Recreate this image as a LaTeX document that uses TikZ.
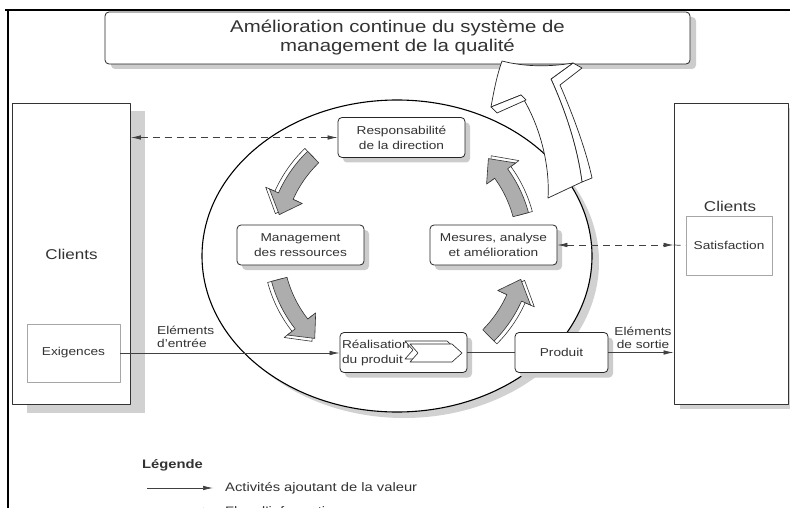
\documentclass[tikz,border=0pt]{standalone}
\usepackage{fontspec}
\setmainfont{Liberation Sans}[FakeStretch=1.2]
\usetikzlibrary{arrows.meta,shadows,calc}

\newcommand\boxfont{\fontsize{11.4}{15}\selectfont}
\newcommand\lblfont{\fontsize{11.4}{13}\selectfont}
\newcommand\clientfont{\fontsize{14.2}{16}\selectfont}
\newcommand\titlefont{\fontsize{17}{19}\selectfont}
\newcommand\legfont{\fontsize{12.3}{14}\selectfont}

% curved block arrow around the centre of the cycle: #1 tail angle, #2 tip angle, #3 radius offset, #4 style
\newcommand\cyclearrow[4]{%
  \path[#4] plot[domain=#1:#2+9, samples=16] ({400+(133+#3)*cos(\x)},{247+(133+#3)*sin(\x)})
    -- ({400+(143+#3)*cos(#2+9)},{247+(143+#3)*sin(#2+9)})
    -- ({400+(125+#3)*cos(#2)},{247+(125+#3)*sin(#2)})
    -- ({400+(107+#3)*cos(#2+9)},{247+(107+#3)*sin(#2+9)})
    -- plot[domain=#2+9:#1, samples=16] ({400+(117+#3)*cos(\x)},{247+(117+#3)*sin(\x)})
    -- cycle;}

\begin{document}
\begin{tikzpicture}[x=1pt, y=-1pt, line join=round,
  every node/.style={text=black!80, inner sep=0pt},
  procbox/.style={draw=black!85, line width=0.8pt, rounded corners=4pt, fill=white,
    align=center, font=\boxfont, minimum width=127pt, minimum height=40pt,
    drop shadow={shadow xshift=5pt, shadow yshift=-5pt, fill=black!20, opacity=1}},
  clientbox/.style={draw=black!80, line width=0.8pt, fill=white, font=\clientfont,
    minimum width=118pt, minimum height=301pt},
  innerbox/.style={draw=black!35, line width=0.6pt, fill=white, font=\boxfont},
  flow/.style={draw=black!75, line width=0.7pt, -{Latex[length=10pt, width=4.5pt]}},
  info/.style={draw=black!75, line width=0.7pt, dash pattern=on 7pt off 5pt},
  cyc/.style={draw=black!80, line width=0.6pt, fill=black!32},
  cycback/.style={draw=black!80, line width=0.6pt, fill=white},
  bigarrow/.style={draw=black!85, line width=0.7pt, fill=white}]

\clip (0,0) rectangle (790,508);
\fill[white] (0,0) rectangle (790,508);

% page frame
\draw[line width=2pt] (5,10) -- (790,10);
\draw[line width=2.5pt] (8,10) -- (8,510);

% continual improvement banner
\node[draw=black!85, line width=0.8pt, rounded corners=4pt, fill=white, align=center,
  font=\titlefont, minimum width=585pt, minimum height=52pt,
  drop shadow={shadow xshift=6pt, shadow yshift=-5pt, fill=black!20, opacity=1}]
  (topbox) at (397.5,38) {Amélioration continue du système de\\management de la qualité};

% customers (left): requirements
\node[clientbox, drop shadow={shadow xshift=14pt, shadow yshift=-8pt, fill=black!18, opacity=1}]
  (clientsL) at (71.5,254) {Clients};
\node[innerbox, minimum width=93pt, minimum height=58pt] (exig) at (73.5,353) {Exigences};

% customers (right): satisfaction
\node[clientbox, minimum width=114pt,
  drop shadow={shadow xshift=6pt, shadow yshift=-5pt, fill=black!18, opacity=1}]
  (clientsR) at (731,253.5) {};
\node[font=\clientfont] (clientsRlbl) at (730,206) {Clients};
\node[innerbox, minimum width=86pt, minimum height=59pt] (satis) at (729,245.5) {Satisfaction};

% process ellipse with its shadow
\fill[black!18] (404,262) ellipse [x radius=195, y radius=156];
\draw[fill=white, line width=1.1pt] (397,256) ellipse [x radius=195, y radius=156];

% large improvement arrow leaving the ellipse towards the banner
\draw[bigarrow] (573,63) -- (582,68) -- (560,85) .. controls (573,115) and (586,150) .. (592,178)
  -- (582,182) .. controls (577,145) and (565,110) .. (551,79) -- cycle;
\draw[bigarrow] (548,198) .. controls (550,165) and (540,125) .. (521,95) -- (491,107)
  .. controls (494,90) and (497,75) .. (502,61) .. controls (525,67) and (550,67) .. (573,63)
  -- (551,79) .. controls (565,110) and (577,145) .. (582,182) -- cycle;
\draw[bigarrow] (491,107) -- (521,95) -- (526,100) -- (497,113) -- cycle;

% processes
\node[procbox] (resp) at (401.5,137.5) {Responsabilité\\de la direction};
\node[procbox] (mgmt) at (300.5,245) {Management\\des ressources};
\node[procbox] (mesu) at (493.5,245) {Mesures, analyse\\et amélioration};
\node[procbox, align=left, text width=123pt] (real) at (403.5,352.5) {Réalisation\\du produit};
\node[procbox, minimum width=93pt] (prod) at (561.5,352.5) {Produit};

% chevron inside the product realization box
\draw[bigarrow, line width=0.6pt] (405,341) -- (447,341) -- (457,350) -- (447,359) -- (405,359) -- (413,350) -- cycle;
\draw[bigarrow, line width=0.6pt] (410,344) -- (452,344) -- (462,353) -- (452,362) -- (410,362) -- (418,353) -- cycle;

% cycle arrows between the processes
\cyclearrow{226}{195}{4}{cycback}
\cyclearrow{226}{195}{0}{cyc}
\cyclearrow{165}{133}{4}{cycback}
\cyclearrow{165}{133}{0}{cyc}
\cyclearrow{45}{15}{4}{cycback}
\cyclearrow{45}{15}{0}{cyc}
\cyclearrow{-15}{-45}{4}{cycback}
\cyclearrow{-15}{-45}{0}{cyc}

% information flows
\draw[info, {Latex[length=10pt, width=4.5pt]}-{Latex[length=10pt, width=4.5pt]}]
  (clientsL.east |- resp.west) -- (resp.west);
\draw[info, {Latex[length=10pt, width=4.5pt]}-{Latex[length=10pt, width=4.5pt]}]
  (mesu.east) -- (mesu.east -| clientsR.west);
\draw[info] (mesu.east -| clientsR.west) -- (satis.west);

% value adding flows
\draw[flow] (exig.east) -- (exig.east -| real.west);
\draw[draw=black!75, line width=0.7pt] (real.east) -- (prod.west);
\draw[flow] (prod.east) -- (prod.east -| clientsR.west);
\node[anchor=west, align=left, font=\lblfont] (inlbl) at (157,337) {Eléments\\d'entrée};
\node[align=center, font=\lblfont] (outlbl) at (643,338) {Eléments\\de sortie};

% legend
\node[anchor=west, font=\legfont\bfseries] (legtitle) at (142,465) {Légende};
\coordinate (l1a) at (147,488);
\coordinate (l1b) at (213,488);
\draw[flow] (l1a) -- (l1b);
\node[anchor=west, font=\legfont] (l1txt) at (225,488) {Activités ajoutant de la valeur};
\coordinate (l2a) at (147,510);
\coordinate (l2b) at (213,510);
\draw[info, -{Latex[length=10pt, width=4.5pt]}] (l2a) -- (l2b);
\node[anchor=west, font=\legfont] (l2txt) at (225,511) {Flux d'informations};
\end{tikzpicture}
\end{document}
